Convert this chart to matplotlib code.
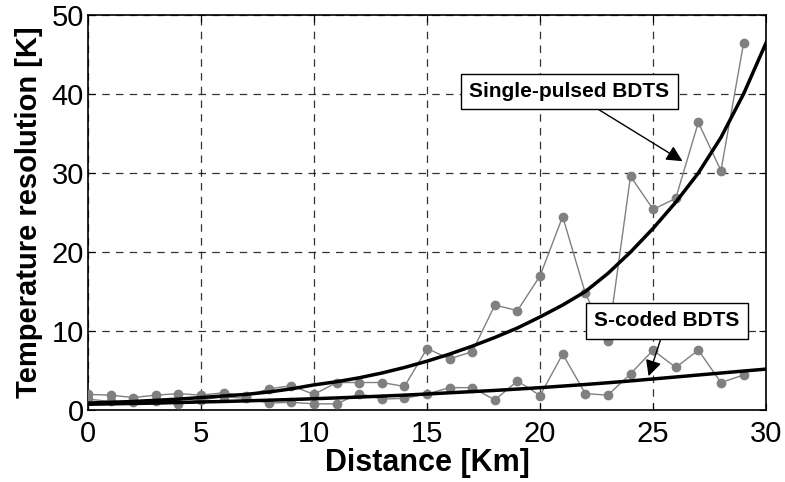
import numpy as np
import matplotlib
matplotlib.use('Agg')
import matplotlib.pyplot as plt

plt.rcParams['font.family'] = ['Liberation Sans', 'DejaVu Sans']

# measured points (km 0..29)
km = list(range(30))
single_meas = [2.0, 1.9, 1.6, 1.9, 2.1, 1.9, 2.2, 1.8, 2.7, 3.1,
               2.0, 3.5, 3.5, 3.5, 3.0, 7.8, 6.5, 7.4, 13.3, 12.6,
               17.0, 24.5, 14.8, 8.8, 29.6, 25.4, 26.8, 36.4, 30.3, 46.4]
scoded_meas = [1.4, 1.1, 1.0, 1.2, 0.8, 1.3, 1.7, 1.5, 0.9, 1.0,
               0.8, 0.8, 2.1, 1.4, 1.5, 2.05, 2.85, 2.85, 1.3, 3.7,
               1.85, 7.1, 2.1, 1.9, 4.6, 7.6, 5.4, 7.6, 3.5, 4.45]

# theoretical curves (km 0..30)
km_fit = list(range(31))
single_fit = [0.9, 1.0, 1.1, 1.25, 1.4, 1.6, 1.8, 2.0, 2.3, 2.7,
              3.2, 3.6, 4.1, 4.7, 5.4, 6.2, 7.1, 8.1, 9.2, 10.4,
              11.8, 13.3, 15.0, 17.3, 20.0, 23.0, 26.3, 30.0, 34.5, 40.0, 46.5]
scoded_fit = [0.75, 0.8, 0.85, 0.9, 0.97, 1.04, 1.1, 1.18, 1.26, 1.35,
              1.45, 1.55, 1.66, 1.78, 1.9, 2.05, 2.2, 2.35, 2.5, 2.67,
              2.85, 3.05, 3.25, 3.47, 3.7, 3.95, 4.2, 4.45, 4.7, 4.95, 5.2]

fig = plt.figure(figsize=(7.85, 4.82), dpi=100)
ax = fig.add_axes([0.112, 0.149, 0.864, 0.82])

gray = '#808080'
ax.plot(km, single_meas, '-o', color=gray, lw=1, ms=6, zorder=3)
ax.plot(km, scoded_meas, '-o', color=gray, lw=1, ms=6, zorder=3)
ax.plot(km_fit, single_fit, '-', color='black', lw=2.5, zorder=4)
ax.plot(km_fit, scoded_fit, '-', color='black', lw=2.5, zorder=4)

ax.set_xlim(0, 30)
ax.set_ylim(0, 50)
ax.set_xticks([0, 5, 10, 15, 20, 25, 30])
ax.set_yticks([0, 10, 20, 30, 40, 50])
ax.grid(True, color='black', linestyle=(0, (6, 5)), lw=0.9, alpha=0.8)
ax.tick_params(direction='in', labelsize=21, length=5, top=True, right=True)
ax.tick_params(axis='x', pad=7)
ax.tick_params(axis='y', pad=3)
for s in ax.spines.values():
    s.set_linewidth(1.2)

ax.set_xlabel('Distance [Km]', fontsize=22, fontweight='bold', labelpad=0)
ax.set_ylabel('Temperature resolution [K]', fontsize=21, fontweight='bold', labelpad=6)

box = dict(boxstyle='square,pad=0.4', fc='white', ec='black', lw=1)
arrow = dict(arrowstyle='-|>', mutation_scale=24, lw=1, color='black',
             shrinkA=0, shrinkB=0)
ax.annotate('Single-pulsed BDTS', xy=(26.3, 31.5), xytext=(21.3, 40.3),
            ha='center', va='center', fontsize=15, fontweight='bold',
            bbox=box, arrowprops=arrow, zorder=6)
ax.annotate('S-coded BDTS', xy=(24.8, 4.3), xytext=(25.6, 11.3),
            ha='center', va='center', fontsize=15, fontweight='bold',
            bbox=box, arrowprops=arrow, zorder=6)

fig.savefig('out.png', dpi=100)
